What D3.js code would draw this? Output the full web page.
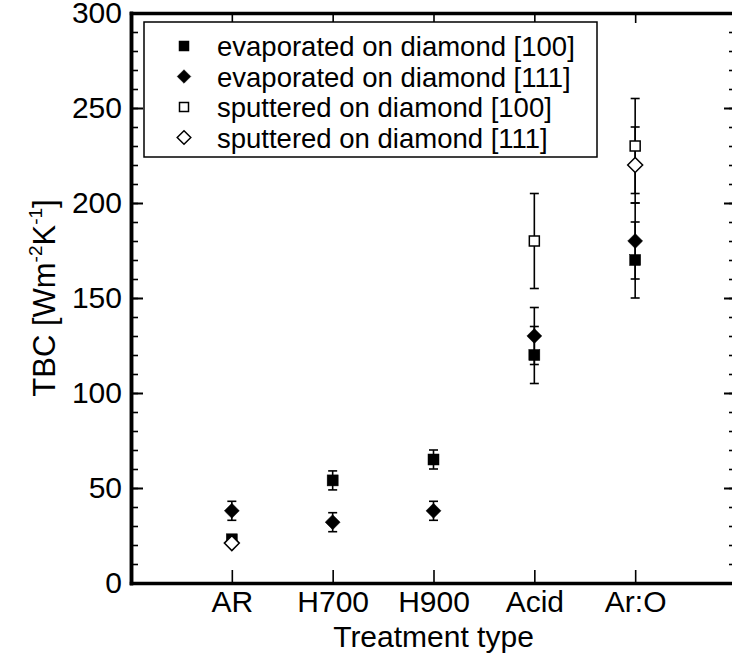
<!DOCTYPE html>
<html>
<head>
<meta charset="utf-8">
<script src="https://cdn.jsdelivr.net/npm/d3@7"></script>
<style>
  body { margin: 0; background: #fff; }
  svg { font-family: "Liberation Sans", Arial, sans-serif; }
  .axis .domain { stroke: #000; stroke-width: 3.5; }
  .axis line { stroke: #000; stroke-width: 1.6; }
  .axis.major line { stroke-width: 2; }
  .axis text { font-size: 30px; fill: #000; }
</style>
</head>
<body>
<svg id="chart" width="732" height="662"></svg>
<script>
// categories on the x axis (positions 1..5)
var categories = ["AR", "H700", "H900", "Acid", "Ar:O"];

// TBC values, null where no point was measured
var evap100 = [23, 54, 65, 120, 170];
var evap100Err = [null, 5, 5, 15, 20];
var evap111 = [38, 32, 38, 130, 180];
var evap111Err = [5, 5, 5, 15, 20];
var sput100 = [null, null, null, 180, 230];
var sput100Err = [null, null, null, 25, 25];
var sput111 = [21, null, null, null, 220];
var sput111Err = [null, null, null, null, 20];

var yTicks = [0, 50, 100, 150, 200, 250, 300];

var series = [
  {name: "evaporated on diamond [100]", vals: evap100, err: evap100Err, shape: "square", filled: true},
  {name: "evaporated on diamond [111]", vals: evap111, err: evap111Err, shape: "diamond", filled: true},
  {name: "sputtered on diamond [100]", vals: sput100, err: sput100Err, shape: "square", filled: false},
  {name: "sputtered on diamond [111]", vals: sput111, err: sput111Err, shape: "diamond", filled: false}
];

var pLeft = 131, pRight = 736, pTop = 13, pBottom = 583;

var x = d3.scaleLinear().domain([0, 6]).range([pLeft, pRight]);
var y = d3.scaleLinear().domain([0, 300]).range([pBottom, pTop]);

var svg = d3.select("#chart");

// minor ticks every 10
svg.append("g")
    .attr("class", "axis")
    .attr("transform", "translate(" + pLeft + ",0)")
    .call(d3.axisLeft(y).tickValues(d3.range(0, 301, 10)).tickSize(-7).tickSizeOuter(0).tickFormat(""));
svg.append("g")
    .attr("class", "axis")
    .attr("transform", "translate(" + pRight + ",0)")
    .call(d3.axisRight(y).tickValues(d3.range(0, 301, 10)).tickSize(-7).tickSizeOuter(0).tickFormat(""));

// major y ticks + labels
svg.append("g")
    .attr("class", "axis major")
    .attr("transform", "translate(" + pLeft + ",0)")
    .call(d3.axisLeft(y).tickValues(yTicks).tickSize(-12).tickSizeOuter(0).tickPadding(9));
svg.append("g")
    .attr("class", "axis major")
    .attr("transform", "translate(" + pRight + ",0)")
    .call(d3.axisRight(y).tickValues(yTicks).tickSize(-12).tickSizeOuter(0).tickFormat(""));

// x axes
svg.append("g")
    .attr("class", "axis")
    .attr("transform", "translate(0," + pBottom + ")")
    .call(d3.axisBottom(x).tickValues([1, 2, 3, 4, 5]).tickSize(-13).tickSizeOuter(0)
        .tickPadding(8).tickFormat(function (d) { return categories[d - 1]; }));
svg.append("g")
    .attr("class", "axis")
    .attr("transform", "translate(0," + pTop + ")")
    .call(d3.axisTop(x).tickValues([1, 2, 3, 4, 5]).tickSize(-10).tickSizeOuter(0).tickFormat(""));

svg.selectAll(".axis .domain").attr("stroke-linecap", "square");

// axis titles
svg.append("text")
    .attr("x", x(3))
    .attr("y", 647)
    .attr("text-anchor", "middle")
    .attr("font-size", 30)
    .text("Treatment type");

var yt = svg.append("text")
    .attr("transform", "translate(55," + ((pTop + pBottom) / 2) + ") rotate(-90)")
    .attr("text-anchor", "middle")
    .attr("font-size", 31);
yt.append("tspan").text("TBC [Wm");
yt.append("tspan").attr("font-size", 19).attr("dy", -13).text("-2");
yt.append("tspan").attr("dy", 13).text("K");
yt.append("tspan").attr("font-size", 19).attr("dy", -13).text("-1");
yt.append("tspan").attr("dy", 13).text("]");

function marker(g, shape, filled, cx, cy, s) {
  var p;
  if (shape === "square") {
    p = g.append("rect").attr("x", cx - s / 2).attr("y", cy - s / 2).attr("width", s).attr("height", s);
  } else {
    var h = s * 0.68;
    p = g.append("path").attr("d", "M" + cx + "," + (cy - h) + "L" + (cx + h) + "," + cy +
        "L" + cx + "," + (cy + h) + "L" + (cx - h) + "," + cy + "Z");
  }
  p.attr("fill", filled ? "#000" : "#fff").attr("stroke", "#000").attr("stroke-width", filled ? 0.5 : 1.5);
}

// error bars first
var eg = svg.append("g");
series.forEach(function (s) {
  s.vals.forEach(function (v, i) {
    if (v === null || s.err[i] === null) return;
    var cx = x(i + 1), e = s.err[i];
    eg.append("line").attr("x1", cx).attr("x2", cx).attr("y1", y(v + e)).attr("y2", y(v - e))
      .attr("stroke", "#000").attr("stroke-width", 1.6);
    [v + e, v - e].forEach(function (w) {
      eg.append("line").attr("x1", cx - 4.5).attr("x2", cx + 4.5).attr("y1", y(w)).attr("y2", y(w))
        .attr("stroke", "#000").attr("stroke-width", 1.6);
    });
  });
});

// markers
var mg = svg.append("g");
series.forEach(function (s) {
  s.vals.forEach(function (v, i) {
    if (v === null) return;
    marker(mg, s.shape, s.filled, x(i + 1), y(v), s.shape === "square" ? (s.filled ? 11 : 10) : 11);
  });
});

// legend
var lg = svg.append("g");
lg.append("rect").attr("x", 144).attr("y", 22).attr("width", 453).attr("height", 135)
  .attr("fill", "#fff").attr("stroke", "#000").attr("stroke-width", 1.5);
series.forEach(function (s, i) {
  var ly = 46 + i * 30.5;
  marker(lg, s.shape, s.filled, 184, ly, s.shape === "square" ? (s.filled ? 10 : 9) : 10);
  lg.append("text").attr("x", 217).attr("y", ly + 10).attr("font-size", 27.5).text(s.name);
});
</script>
</body>
</html>
